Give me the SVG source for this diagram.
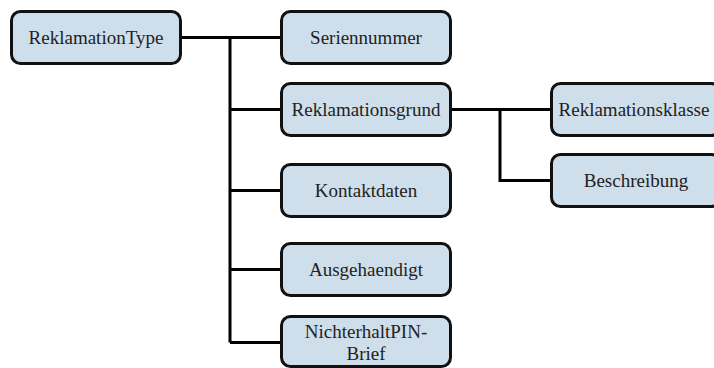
<svg xmlns="http://www.w3.org/2000/svg" width="714" height="368" viewBox="0 0 714 368">
<style>
.box{fill:#cfdeeb;stroke:#111;stroke-width:3}
.lbl{font-size:19px;fill:#222;text-anchor:middle}
.con{fill:none;stroke:#000;stroke-width:3}
</style>
<rect width="714" height="368" fill="#fff"/>
<g id="connectors">
<path class="con" d="M180.5,37.5H281.5M230,37.5V342.5M230,109.5H281.5M230,190.5H281.5M230,269.5H281.5M230,342.5H281.5"/>
<path class="con" d="M450.5,109.5H551.5M500,109.5V180.5H551.5"/>
</g>
<g font-family="'Liberation Serif', 'Times New Roman', Tinos, 'DejaVu Serif', serif">
<g id="ReklamationType"><rect class="box" x="11.5" y="11.5" width="169" height="52" rx="9"/><text class="lbl" x="96" y="44">ReklamationType</text></g>
<g id="Seriennummer"><rect class="box" x="281.5" y="11.5" width="169" height="52" rx="9"/><text class="lbl" x="366" y="44">Seriennummer</text></g>
<g id="Reklamationsgrund"><rect class="box" x="281.5" y="83.5" width="169" height="52" rx="9"/><text class="lbl" x="366" y="116">Reklamationsgrund</text></g>
<g id="Kontaktdaten"><rect class="box" x="281.5" y="164.5" width="169" height="52" rx="9"/><text class="lbl" x="366" y="197">Kontaktdaten</text></g>
<g id="Ausgehaendigt"><rect class="box" x="281.5" y="243.5" width="169" height="52" rx="9"/><text class="lbl" x="366" y="276">Ausgehaendigt</text></g>
<g id="NichterhaltPIN-Brief"><rect class="box" x="281.5" y="316.5" width="169" height="50" rx="9"/><text class="lbl" x="366" y="338">NichterhaltPIN-</text><text class="lbl" x="366" y="360">Brief</text></g>
<g id="Reklamationsklasse"><rect class="box" x="551.5" y="83.5" width="169" height="52" rx="9"/><text class="lbl" x="634" y="116">Reklamationsklasse</text></g>
<g id="Beschreibung"><rect class="box" x="551.5" y="154.5" width="169" height="52" rx="9"/><text class="lbl" x="636" y="187">Beschreibung</text></g>
</g>
</svg>
